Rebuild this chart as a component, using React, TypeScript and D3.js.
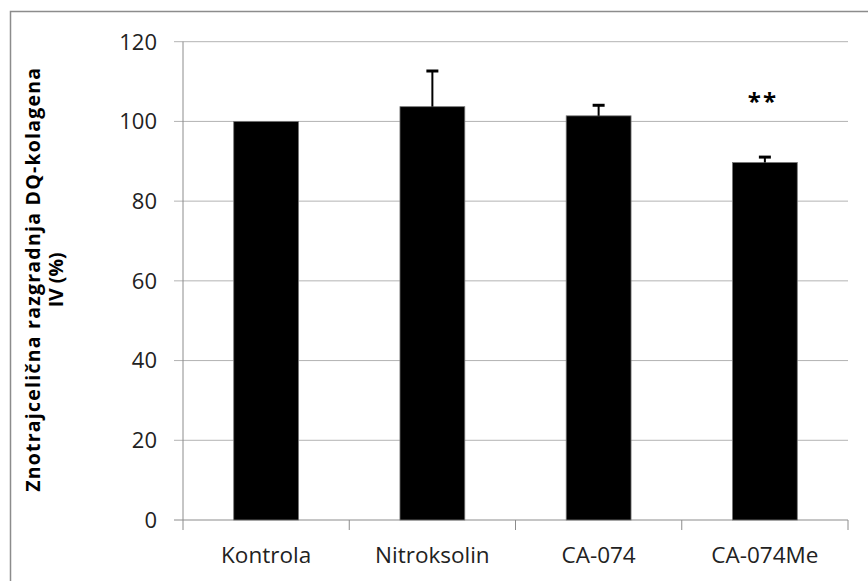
import React from "react";
import * as d3 from "d3";

// Treatment groups and measured intracellular DQ-collagen IV degradation (% of control)
const categories = ["Kontrola", "Nitroksolin", "CA-074", "CA-074Me"];
const means = [100, 103.7, 101.4, 89.7];
const errors = [0, 9.2, 2.9, 1.6];
const significance = ["", "", "", "**"];
const yTicks = [0, 20, 40, 60, 80, 100, 120];
const yLabelLines = ["Znotrajcelična razgradnja DQ-kolagena", "IV (%)"];

const W = 868;
const H = 581;
const plot = { left: 183, right: 848, top: 41.7, bottom: 520 };
const FONT = "Open Sans, Noto Sans, DejaVu Sans, sans-serif";

export default function App() {
  const x = d3
    .scaleBand<string>()
    .domain(categories)
    .range([plot.left, plot.right])
    .paddingInner(0.61)
    .paddingOuter(0.305);
  const y = d3.scaleLinear().domain([0, 120]).range([plot.bottom, plot.top]);
  const step = (plot.right - plot.left) / categories.length;
  const boundaries = d3.range(categories.length + 1).map((i) => plot.left + i * step);
  const labelY = (plot.top + plot.bottom) / 2 - 1;

  return (
    <svg
      width={W}
      height={H}
      style={{ position: "absolute", left: 0, top: 0, background: "#fff" }}
      fontFamily={FONT}
    >
      <rect x={10.5} y={11.5} width={W + 20} height={H + 20} fill="#fff" stroke="#8c8c8c" strokeWidth={1.5} />

      {/* horizontal gridlines and y tick marks */}
      {yTicks.map((t) => (
        <g key={t}>
          <line x1={plot.left - 9} x2={plot.right} y1={y(t)} y2={y(t)} stroke={t === 0 ? "#8c8c8c" : "#b3b3b3"} strokeWidth={1} />
          <text x={157} y={y(t)} dy="0.36em" textAnchor="end" fontSize={22} fill="#222">
            {t}
          </text>
        </g>
      ))}

      {/* axes */}
      <line x1={plot.left} x2={plot.left} y1={plot.top} y2={plot.bottom} stroke="#8c8c8c" strokeWidth={1} />
      {boundaries.map((bx, i) => (
        <line key={i} x1={bx} x2={bx} y1={plot.bottom} y2={plot.bottom + 10} stroke="#8c8c8c" strokeWidth={1} />
      ))}

      {/* bars, error bars and significance marks */}
      {categories.map((c, i) => {
        const bx = x(c)!;
        const cx = bx + x.bandwidth() / 2;
        const top = y(means[i]);
        const errTop = y(means[i] + errors[i]);
        return (
          <g key={c}>
            <rect x={bx} y={top} width={x.bandwidth()} height={plot.bottom - top} fill="#000" stroke="#777" strokeWidth={0.8} />
            {errors[i] > 0 && (
              <g stroke="#000">
                <line x1={cx} x2={cx} y1={top} y2={errTop} strokeWidth={2} />
                <line x1={cx - 6} x2={cx + 6} y1={errTop + 1} y2={errTop + 1} strokeWidth={3} />
              </g>
            )}
            {significance[i] && (
              <text x={cx - 2} y={errTop - 46} textAnchor="middle" fontSize={24} fontWeight="bold" letterSpacing={2} fill="#000">
                {significance[i]}
              </text>
            )}
            <text x={cx} y={563} textAnchor="middle" fontSize={22.5} fill="#222">
              {c}
            </text>
          </g>
        );
      })}

      {/* y axis title */}
      <text
        transform={`translate(40, ${labelY}) rotate(-90)`}
        textAnchor="middle"
        fontSize={19.5}
        fontWeight="bold"
        fill="#000"
      >
        <tspan x={0} dy={0} textLength={424} lengthAdjust="spacing">
          {yLabelLines[0]}
        </tspan>
        <tspan x={0} dy={23}>
          {yLabelLines[1]}
        </tspan>
      </text>
    </svg>
  );
}
